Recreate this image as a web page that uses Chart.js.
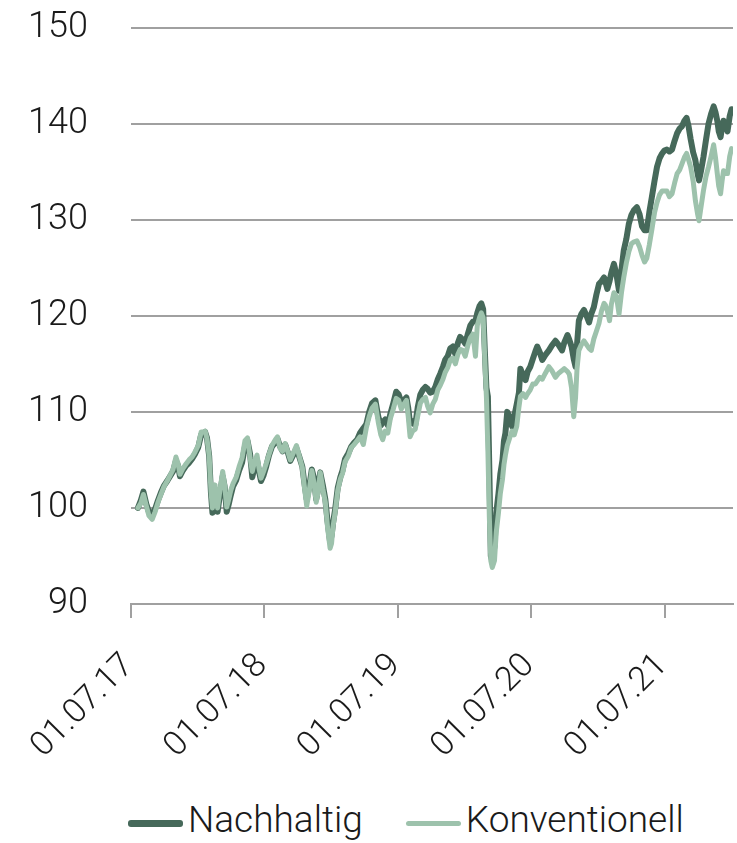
<!DOCTYPE html>
<html>
<head>
<meta charset="utf-8">
<script src="https://cdn.jsdelivr.net/npm/chart.js@4/dist/chart.umd.min.js"></script>
<style>
  html, body { margin:0; padding:0; background:#fff; overflow:hidden; }
  #wrap { position:relative; width:737px; height:843px; overflow:hidden; }
  #box { position:absolute; left:0; top:-37px; width:737px; height:827px; }
  #legend { position:absolute; left:128px; top:798px; display:flex; align-items:center; font-family:Roboto, sans-serif; font-weight:300; font-size:37px; line-height:44px; color:#1a1a1a; }
  .item { display:flex; align-items:center; margin-right:43px; }
  .swatch { width:55px; margin-right:5px; margin-top:6px; border-radius:3px; }
</style>
</head>
<body>
<div id="wrap">
  <div id="box"><canvas id="perf"></canvas></div>
  <div id="legend"></div>
</div>
<script>
// days since 01.07.17
const dayOffsets = [
  19,27,34,42,49,58,66,74,82,90,
  99,107,115,123,129,134,142,151,159,167,
  175,184,192,197,203,208,214,219,223,230,
  237,244,251,256,262,267,273,279,288,296,
  304,312,319,326,332,338,345,351,356,363,
  370,378,386,395,401,408,415,422,429,436,
  444,453,460,469,474,481,488,495,501,507,
  512,518,525,532,538,545,549,553,559,566,
  573,579,586,595,603,611,619,627,636,644,
  652,660,669,677,684,689,696,703,710,718,
  726,733,740,747,754,759,764,771,778,785,
  792,799,806,812,819,826,833,840,847,854,
  860,867,874,881,888,895,901,908,915,922,
  929,936,943,948,954,959,964,969,973,977,
  981,985,989,995,1000,1006,1011,1017,1021,1025,
  1030,1036,1043,1049,1056,1062,1066,1073,1080,1086,
  1093,1100,1107,1112,1119,1126,1134,1144,1152,1162,
  1170,1180,1186,1195,1200,1206,1212,1217,1221,1226,
  1233,1240,1247,1254,1260,1267,1274,1281,1288,1295,
  1299,1304,1310,1315,1322,1329,1336,1343,1349,1356,
  1363,1370,1377,1385,1392,1399,1406,1412,1419,1426,
  1433,1440,1447,1454,1460,1467,1474,1481,1488,1495,
  1502,1508,1515,1521,1526,1532,1539,1545,1551,1555,
  1560,1567,1574,1581,1588,1595,1600,1605,1609,1614,
  1618,1622,1628,1633,1639,1644
];

const nachhaltig = [
  100.0,100.8,101.7,100.4,99.6,99.3,99.9,100.8,101.6,102.3,
  102.8,103.3,103.8,104.9,104.4,103.3,103.9,104.4,104.7,105.1,
  105.6,106.3,107.6,107.7,107.9,107.3,105.4,101.5,99.5,101.8,
  99.6,101.5,103.3,102.3,99.6,100.3,101.3,102.2,102.9,103.9,
  104.7,106.4,107.0,105.6,103.2,104.2,105.0,103.7,102.8,103.4,
  104.3,105.5,106.4,106.8,107.2,106.4,105.9,106.6,105.8,104.9,
  105.5,106.2,105.4,104.3,102.8,100.9,102.2,104.0,103.1,100.9,
  101.9,103.7,102.4,100.9,98.6,96.5,97.1,98.4,99.9,102.1,
  103.2,103.9,105.1,105.7,106.4,106.8,107.1,107.8,108.3,108.7,
  110.0,110.9,111.2,109.5,108.6,108.9,109.2,108.6,109.8,110.9,
  112.1,111.8,111.0,111.2,111.5,110.4,108.8,109.0,108.6,110.5,
  111.8,112.3,112.6,112.4,112.0,112.1,112.6,113.4,114.0,114.7,
  115.4,115.8,116.6,116.8,116.0,117.2,117.8,117.5,117.1,118.1,
  119.0,119.4,119.5,120.3,121.0,121.3,120.7,116.0,112.5,111.6,
  104.0,95.0,94.5,96.0,99.5,101.5,103.5,105.0,107.0,107.8,
  110.0,109.5,108.5,109.5,110.8,112.0,114.5,113.8,113.3,114.2,
  114.7,115.5,116.3,116.8,116.2,115.4,115.9,116.4,116.9,117.4,
  117.0,116.4,117.2,118.0,117.5,116.8,115.5,114.7,117.0,119.5,
  120.2,120.6,120.0,119.3,120.2,120.9,122.2,123.3,123.6,124.0,
  123.5,122.8,123.6,124.5,125.4,124.3,122.6,124.9,126.8,128.0,
  129.6,130.5,131.0,131.3,130.6,129.3,128.9,128.9,130.8,132.4,
  134.0,135.5,136.4,136.9,137.2,137.3,137.1,137.3,138.2,139.0,
  139.5,139.7,140.3,140.6,139.8,138.4,137.0,136.2,134.8,134.1,
  135.0,136.5,138.3,140.0,141.0,141.8,141.2,140.3,139.2,138.6,
  139.6,140.3,139.8,139.2,140.8,141.5
];

const konventionell = [
  100.0,100.5,101.4,100.2,99.2,98.8,99.6,100.6,101.4,102.2,
  102.8,103.4,104.0,105.3,104.6,103.5,104.1,104.6,105.0,105.3,
  105.8,106.5,107.9,107.9,108.0,107.2,105.4,101.7,100.0,102.4,
  100.0,102.0,103.8,102.5,100.1,100.8,101.8,102.5,103.2,104.3,
  105.2,107.0,107.3,105.2,103.8,104.8,105.5,104.0,103.1,103.8,
  104.6,105.6,106.5,107.1,107.4,106.2,105.9,106.7,105.9,105.0,
  105.7,106.5,105.5,104.2,102.4,100.2,101.8,103.9,102.6,100.6,
  101.6,103.7,102.0,100.6,98.0,95.8,96.3,98.0,99.6,101.8,
  103.0,103.6,104.8,105.4,106.3,106.6,107.0,107.4,106.6,108.3,
  109.5,110.4,110.8,108.9,107.6,107.1,108.0,107.8,109.3,110.3,
  111.4,111.2,110.3,110.8,111.2,109.5,107.4,108.0,108.2,109.6,
  110.9,111.3,111.5,110.6,109.9,110.8,111.3,112.3,112.8,113.4,
  114.1,114.6,115.4,115.6,115.0,116.0,116.5,116.4,115.8,116.9,
  117.7,118.1,115.8,119.0,119.8,120.3,119.8,115.0,111.5,106.0,
  99.0,94.5,93.8,94.5,97.5,99.5,101.5,103.0,104.5,105.5,
  106.5,107.2,108.0,107.6,108.5,110.5,111.6,111.9,111.5,111.9,
  112.3,112.9,112.9,113.2,113.6,113.4,114.0,114.7,114.3,113.6,
  114.0,114.3,114.5,114.2,113.9,112.5,109.5,111.5,114.5,116.4,
  117.0,117.4,117.0,116.6,116.4,117.6,118.4,119.2,120.5,121.3,
  121.1,120.5,119.5,121.2,122.4,122.0,120.2,122.5,124.0,125.5,
  126.7,127.5,127.7,127.8,127.2,126.3,125.6,126.0,127.4,129.0,
  130.7,131.8,132.6,133.0,133.0,133.0,132.4,132.7,133.8,134.8,
  135.2,135.8,136.5,136.9,136.3,135.5,134.0,132.0,130.6,129.9,
  131.2,133.0,134.5,135.5,136.6,137.8,136.5,134.8,133.5,132.7,
  134.0,135.1,134.8,134.8,136.6,137.4
];

const tickDays = [0, 365, 730, 1096, 1461];
const tickLabels = ['01.07.17', '01.07.18', '01.07.19', '01.07.20', '01.07.21'];

const DARK = '#46695a';
const LIGHT = '#9dc2ac';
const GRID = '#a0a0a0';
const FONT = { family: 'Roboto', size: 36, weight: '300' };

const pts = vals => dayOffsets.map((d, i) => ({ x: d, y: vals[i] }));

new Chart(document.getElementById('perf'), {
  type: 'line',
  data: {
    datasets: [
      { label: 'Nachhaltig', data: pts(nachhaltig), borderColor: DARK, borderWidth: 6, order: 1 },
      { label: 'Konventionell', data: pts(konventionell), borderColor: LIGHT, borderWidth: 5, order: 0 },
    ],
  },
  options: {
    responsive: true, maintainAspectRatio: false, animation: false,
    elements: { point: { radius: 0 }, line: { tension: 0, borderJoinStyle: 'round', borderCapStyle: 'round' } },
    layout: { autoPadding: false, padding: { top: 27, right: 4 } },
    plugins: { legend: { display: false }, tooltip: { enabled: false } },
    scales: {
      x: {
        type: 'linear', min: 0, max: 1648,
        afterBuildTicks: s => { s.ticks = tickDays.map(v => ({ value: v })); },
        afterFit: s => { s.height = 186; },
        ticks: {
          minRotation: 45, maxRotation: 45, color: '#1a1a1a', font: { ...FONT, size: 34 },
          padding: 28, labelOffset: -2,
          callback: v => tickLabels[tickDays.indexOf(v)],
        },
        grid: { drawOnChartArea: false, drawTicks: true, tickLength: 14, color: GRID, lineWidth: 2 },
        border: { color: GRID, width: 2 },
      },
      y: {
        min: 90, max: 150,
        afterFit: s => { s.width = 131; },
        ticks: { stepSize: 10, color: '#1a1a1a', font: FONT, padding: 43 },
        grid: { color: GRID, lineWidth: 2, drawTicks: false },
        border: { display: false },
      },
    },
  },
});

// legend under the plot
const legendItems = [
  { label: 'Nachhaltig', color: DARK, h: 7 },
  { label: 'Konventionell', color: LIGHT, h: 5 },
];
document.getElementById('legend').innerHTML = legendItems.map(it =>
  `<div class="item"><div class="swatch" style="height:${it.h}px;background:${it.color};"></div><span>${it.label}</span></div>`
).join('');
</script>
</body>
</html>
